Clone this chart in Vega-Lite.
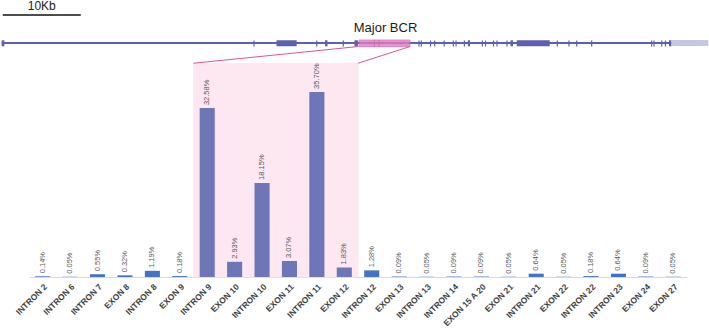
{
  "$schema": "https://vega.github.io/schema/vega-lite/v6.json",
  "width": 658,
  "height": 277,
  "autosize": {"type": "none"},
  "padding": {"left": 29, "top": 0, "right": 22, "bottom": 53},
  "config": {"view": {"stroke": null}, "font": "Liberation Sans"},
  "datasets": {
    "cats": [
      {"cat": "INTRON 2", "pct": 0.14, "label": "0.14%", "region": "out"},
      {"cat": "INTRON 6", "pct": 0.05, "label": "0.05%", "region": "out"},
      {"cat": "INTRON 7", "pct": 0.55, "label": "0.55%", "region": "out"},
      {"cat": "EXON 8", "pct": 0.32, "label": "0.32%", "region": "out"},
      {"cat": "INTRON 8", "pct": 1.19, "label": "1.19%", "region": "out"},
      {"cat": "EXON 9", "pct": 0.18, "label": "0.18%", "region": "out"},
      {"cat": "INTRON 9", "pct": 32.58, "label": "32.58%", "region": "in"},
      {"cat": "EXON 10", "pct": 2.93, "label": "2.93%", "region": "in"},
      {"cat": "INTRON 10", "pct": 18.15, "label": "18.15%", "region": "in"},
      {"cat": "EXON 11", "pct": 3.07, "label": "3.07%", "region": "in"},
      {"cat": "INTRON 11", "pct": 35.70, "label": "35.70%", "region": "in"},
      {"cat": "EXON 12", "pct": 1.83, "label": "1.83%", "region": "in"},
      {"cat": "INTRON 12", "pct": 1.28, "label": "1.28%", "region": "out"},
      {"cat": "EXON 13", "pct": 0.09, "label": "0.09%", "region": "out"},
      {"cat": "INTRON 13", "pct": 0.05, "label": "0.05%", "region": "out"},
      {"cat": "INTRON 14", "pct": 0.09, "label": "0.09%", "region": "out"},
      {"cat": "EXON 15 A 20", "pct": 0.09, "label": "0.09%", "region": "out"},
      {"cat": "EXON 21", "pct": 0.05, "label": "0.05%", "region": "out"},
      {"cat": "INTRON 21", "pct": 0.64, "label": "0.64%", "region": "out"},
      {"cat": "EXON 22", "pct": 0.05, "label": "0.05%", "region": "out"},
      {"cat": "INTRON 22", "pct": 0.18, "label": "0.18%", "region": "out"},
      {"cat": "INTRON 23", "pct": 0.64, "label": "0.64%", "region": "out"},
      {"cat": "EXON 24", "pct": 0.09, "label": "0.09%", "region": "out"},
      {"cat": "EXON 27", "pct": 0.05, "label": "0.05%", "region": "out"}
    ],
    "backbone": [{"start": 0, "end": 85.83}],
    "ticks": [
      {"pos": 32.31}, {"pos": 40.35}, {"pos": 43.76}, {"pos": 47.73}, {"pos": 48.33},
      {"pos": 53.46}, {"pos": 53.76}, {"pos": 54.94}, {"pos": 55.47}, {"pos": 56.69},
      {"pos": 57.86}, {"pos": 58.21}, {"pos": 59.29}, {"pos": 61.58}, {"pos": 61.99},
      {"pos": 63.01}, {"pos": 63.46}, {"pos": 64.74}, {"pos": 71.19}, {"pos": 72.69},
      {"pos": 73.68}, {"pos": 75.60}, {"pos": 83.29}, {"pos": 83.59}, {"pos": 84.58},
      {"pos": 85.06}
    ],
    "exons": [
      {"start": -0.05, "end": 0.3},
      {"start": 35.19, "end": 37.78},
      {"start": 41.41, "end": 41.73},
      {"start": 45.19, "end": 45.64},
      {"start": 59.72, "end": 60.0},
      {"start": 65.19, "end": 65.51},
      {"start": 65.99, "end": 70.22},
      {"start": 85.51, "end": 85.83}
    ],
    "utr": [{"start": 85.83, "end": 90.55}],
    "bcr": [{"start": 45.77, "end": 52.31, "name": "Major BCR", "mid": 49.17}],
    "links": [
      {"gx": 45.68, "rx": 24.55},
      {"gx": 52.31, "rx": 45.64}
    ],
    "scalebar": [{"start": 0.1, "end": 10.1, "mid": 5.1, "name": "10Kb"}]
  },
  "layer": [
    {
      "data": {"name": "cats"},
      "transform": [{"filter": "datum.region == 'in'"}],
      "mark": {"type": "bar", "color": "#fde7f0", "stroke": "#fde7f0", "strokeWidth": 0.8, "width": {"band": 1}},
      "encoding": {
        "x": {"field": "cat", "type": "nominal", "sort": null, "axis": null,
          "scale": {"paddingInner": 0, "paddingOuter": 0, "domain": ["INTRON 2","INTRON 6","INTRON 7","EXON 8","INTRON 8","EXON 9","INTRON 9","EXON 10","INTRON 10","EXON 11","INTRON 11","EXON 12","INTRON 12","EXON 13","INTRON 13","INTRON 14","EXON 15 A 20","EXON 21","INTRON 21","EXON 22","INTRON 22","INTRON 23","EXON 24","EXON 27"]}},
        "y": {"datum": 41.22, "type": "quantitative", "scale": {"domain": [0, 53.42], "nice": false}, "axis": null},
        "y2": {"datum": 0}
      }
    },
    {
      "data": {"name": "cats"},
      "mark": {"type": "bar", "width": {"band": 0.55}},
      "encoding": {
        "x": {
          "field": "cat", "type": "nominal", "sort": null,
          "scale": {"paddingInner": 0, "paddingOuter": 0, "domain": ["INTRON 2","INTRON 6","INTRON 7","EXON 8","INTRON 8","EXON 9","INTRON 9","EXON 10","INTRON 10","EXON 11","INTRON 11","EXON 12","INTRON 12","EXON 13","INTRON 13","INTRON 14","EXON 15 A 20","EXON 21","INTRON 21","EXON 22","INTRON 22","INTRON 23","EXON 24","EXON 27"]},
          "axis": {
            "title": null, "labelAngle": -45, "labelFontWeight": "bold", "labelFontSize": 8.5,
            "labelColor": "#3f3f3f", "ticks": false, "domainColor": "#d9d9d9", "labelPadding": 5
          }
        },
        "y": {"field": "pct", "type": "quantitative", "axis": null, "scale": {"domain": [0, 53.42], "nice": false}},
        "color": {"field": "region", "type": "nominal", "legend": null,
          "scale": {"domain": ["in", "out"], "range": ["#6d77b8", "#4472c4"]}}
      }
    },
    {
      "data": {"name": "cats"},
      "mark": {"type": "text", "angle": 270, "align": "left", "baseline": "middle", "dx": 3, "fontSize": 7.5, "color": "#595959"},
      "encoding": {
        "x": {"field": "cat", "type": "nominal", "sort": null, "axis": null,
          "scale": {"paddingInner": 0, "paddingOuter": 0, "domain": ["INTRON 2","INTRON 6","INTRON 7","EXON 8","INTRON 8","EXON 9","INTRON 9","EXON 10","INTRON 10","EXON 11","INTRON 11","EXON 12","INTRON 12","EXON 13","INTRON 13","INTRON 14","EXON 15 A 20","EXON 21","INTRON 21","EXON 22","INTRON 22","INTRON 23","EXON 24","EXON 27"]}},
        "y": {"field": "pct", "type": "quantitative", "axis": null, "scale": {"domain": [0, 53.42], "nice": false}},
        "text": {"field": "label"}
      }
    },
    {
      "data": {"name": "backbone"},
      "mark": {"type": "rule", "color": "#5c60b2", "strokeWidth": 2},
      "encoding": {
        "x": {"field": "start", "type": "quantitative", "axis": null, "scale": {"domain": [3.4615, 87.821], "nice": false, "zero": false}},
        "x2": {"field": "end"},
        "y": {"datum": 45.13, "type": "quantitative", "axis": null, "scale": {"domain": [0, 53.42], "nice": false}}
      }
    },
    {
      "data": {"name": "ticks"},
      "mark": {"type": "rule", "color": "#5c60b2", "strokeWidth": 1.2},
      "encoding": {
        "x": {"field": "pos", "type": "quantitative", "axis": null, "scale": {"domain": [3.4615, 87.821], "nice": false, "zero": false}},
        "y": {"datum": 45.61, "type": "quantitative", "axis": null, "scale": {"domain": [0, 53.42], "nice": false}},
        "y2": {"datum": 44.45}
      }
    },
    {
      "data": {"name": "exons"},
      "mark": {"type": "rect", "color": "#5c60b2"},
      "encoding": {
        "x": {"field": "start", "type": "quantitative", "axis": null, "scale": {"domain": [3.4615, 87.821], "nice": false, "zero": false}},
        "x2": {"field": "end"},
        "y": {"datum": 45.65, "type": "quantitative", "axis": null, "scale": {"domain": [0, 53.42], "nice": false}},
        "y2": {"datum": 44.49}
      }
    },
    {
      "data": {"name": "utr"},
      "mark": {"type": "rect", "color": "#c6c7e8"},
      "encoding": {
        "x": {"field": "start", "type": "quantitative", "axis": null, "scale": {"domain": [3.4615, 87.821], "nice": false, "zero": false}},
        "x2": {"field": "end"},
        "y": {"datum": 45.71, "type": "quantitative", "axis": null, "scale": {"domain": [0, 53.42], "nice": false}},
        "y2": {"datum": 44.55}
      }
    },
    {
      "data": {"name": "bcr"},
      "mark": {"type": "rect", "color": "#e07bbf", "opacity": 0.8, "stroke": "#d65aa6", "strokeWidth": 0.8},
      "encoding": {
        "x": {"field": "start", "type": "quantitative", "axis": null, "scale": {"domain": [3.4615, 87.821], "nice": false, "zero": false}},
        "x2": {"field": "end"},
        "y": {"datum": 45.71, "type": "quantitative", "axis": null, "scale": {"domain": [0, 53.42], "nice": false}},
        "y2": {"datum": 44.42}
      }
    },
    {
      "data": {"name": "bcr"},
      "mark": {"type": "text", "align": "center", "baseline": "alphabetic", "fontSize": 13, "color": "#1a1a1a"},
      "encoding": {
        "x": {"field": "mid", "type": "quantitative", "axis": null, "scale": {"domain": [3.4615, 87.821], "nice": false, "zero": false}},
        "y": {"datum": 47.31, "type": "quantitative", "axis": null, "scale": {"domain": [0, 53.42], "nice": false}},
        "text": {"field": "name"}
      }
    },
    {
      "data": {"name": "links"},
      "mark": {"type": "rule", "color": "#d9569e", "strokeWidth": 1},
      "encoding": {
        "x": {"field": "gx", "type": "quantitative", "axis": null, "scale": {"domain": [3.4615, 87.821], "nice": false, "zero": false}},
        "x2": {"field": "rx"},
        "y": {"datum": 44.45, "type": "quantitative", "axis": null, "scale": {"domain": [0, 53.42], "nice": false}},
        "y2": {"datum": 41.22}
      }
    },
    {
      "data": {"name": "scalebar"},
      "mark": {"type": "rule", "color": "#111111", "strokeWidth": 1.5},
      "encoding": {
        "x": {"field": "start", "type": "quantitative", "axis": null, "scale": {"domain": [3.4615, 87.821], "nice": false, "zero": false}},
        "x2": {"field": "end"},
        "y": {"datum": 50.53, "type": "quantitative", "axis": null, "scale": {"domain": [0, 53.42], "nice": false}}
      }
    },
    {
      "data": {"name": "scalebar"},
      "mark": {"type": "text", "align": "center", "baseline": "alphabetic", "fontSize": 12, "color": "#1a1a1a"},
      "encoding": {
        "x": {"field": "mid", "type": "quantitative", "axis": null, "scale": {"domain": [3.4615, 87.821], "nice": false, "zero": false}},
        "y": {"datum": 51.49, "type": "quantitative", "axis": null, "scale": {"domain": [0, 53.42], "nice": false}},
        "text": {"field": "name"}
      }
    }
  ],
  "resolve": {"scale": {"x": "independent"}}
}
